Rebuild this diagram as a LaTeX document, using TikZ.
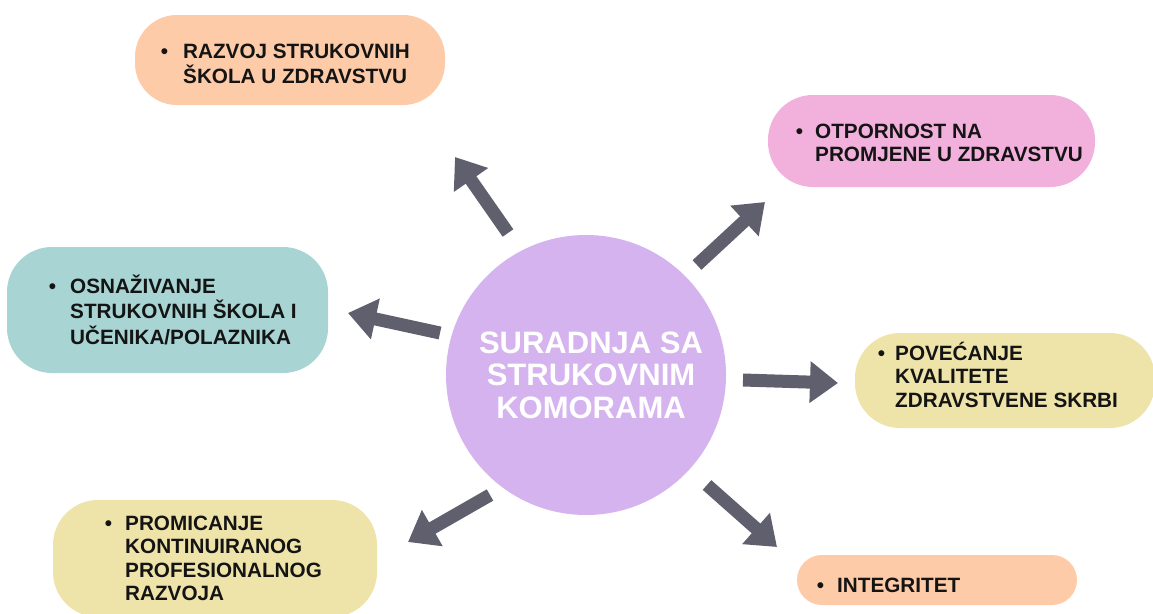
\documentclass[tikz,border=0pt]{standalone}
\usepackage{fontspec}
\setmainfont{Liberation Sans}
\usetikzlibrary{arrows.meta}
\definecolor{peach}{RGB}{253,203,168}
\definecolor{pinkbox}{RGB}{242,176,220}
\definecolor{tealbox}{RGB}{168,212,212}
\definecolor{yellowbox}{RGB}{238,228,170}
\definecolor{lav}{RGB}{212,179,238}
\definecolor{arrowgray}{RGB}{96,95,110}
\definecolor{ink}{RGB}{20,20,20}
\newcommand\mybul[1]{\llap{\textbullet\hspace{#1pt}}}
\tikzset{
  box/.style={rectangle, rounded corners=#1, inner sep=0pt, draw=none},
  lbl/.style={anchor=base west, inner sep=0pt, text=ink,
    font=\fontsize{20.7}{23.5}\selectfont\bfseries},
  ctext/.style={anchor=base, inner sep=0pt, text=white,
    font=\fontsize{31}{32.6}\selectfont\bfseries},
  bigarrow/.style={draw=arrowgray, line width=13pt,
    -{Triangle[width=40pt,length=28pt]}}
}
\begin{document}
\begin{tikzpicture}[x=1pt,y=-1pt]
\clip (0,0) rectangle (1153,613);
\fill[white] (0,0) rectangle (1153,613);

% centre
\node[circle, fill=lav, minimum size=280pt, inner sep=0pt] (c) at (586,375) {};
\node[ctext] (ct) at (591,353) {\begin{tabular}[t]{@{}c@{}}SURADNJA SA\\STRUKOVNIM\\KOMORAMA\end{tabular}};

% boxes
\node[box=42pt, fill=peach, minimum width=310pt, minimum height=90pt] (b1) at (290,60) {};
\node[box=45pt, fill=pinkbox, minimum width=327pt, minimum height=92pt] (b2) at (931.5,141) {};
\node[box=45pt, fill=tealbox, minimum width=321pt, minimum height=126pt] (b3) at (167.5,310) {};
\node[box=45pt, fill=yellowbox, minimum width=300pt, minimum height=95pt] (b4) at (1005,380.5) {};
\node[box=45pt, fill=yellowbox, minimum width=324pt, minimum height=117pt] (b5) at (215,558.5) {};
\node[box=25pt, fill=peach, minimum width=280pt, minimum height=50pt] (b6) at (937,580) {};

% labels
\node[lbl] (t1) at (183,58) {\begin{tabular}[t]{@{}l@{}}\mybul{15}RAZVOJ STRUKOVNIH\\ŠKOLA U ZDRAVSTVU\end{tabular}};
\node[lbl] (t2) at (815,138) {\begin{tabular}[t]{@{}l@{}}\mybul{12}OTPORNOST NA\\PROMJENE U ZDRAVSTVU\end{tabular}};
\node[lbl] (t3) at (70,293) {\begin{tabular}[t]{@{}l@{}}\mybul{14}OSNAŽIVANJE\\STRUKOVNIH ŠKOLA I\\UČENIKA/POLAZNIKA\end{tabular}};
\node[lbl] (t4) at (895,360) {\begin{tabular}[t]{@{}l@{}}\mybul{10}POVEĆANJE\\KVALITETE\\ZDRAVSTVENE SKRBI\end{tabular}};
\node[lbl] (t5) at (125,530) {\begin{tabular}[t]{@{}l@{}}\mybul{13}PROMICANJE\\KONTINUIRANOG\\PROFESIONALNOG\\RAZVOJA\end{tabular}};
\node[lbl] (t6) at (837,592) {\begin{tabular}[t]{@{}l@{}}\mybul{13}INTEGRITET\end{tabular}};

% arrow end points
\coordinate (a1s) at (508,233); \coordinate (a1e) at (455,157);
\coordinate (a2s) at (697,265); \coordinate (a2e) at (765,202);
\coordinate (a3s) at (440,333); \coordinate (a3e) at (348,313);
\coordinate (a4s) at (743,380); \coordinate (a4e) at (838,383);
\coordinate (a5s) at (490,495); \coordinate (a5e) at (408,542);
\coordinate (a6s) at (707,485); \coordinate (a6e) at (777,547);

\draw[bigarrow] (a1s) -- (a1e);
\draw[bigarrow] (a2s) -- (a2e);
\draw[bigarrow] (a3s) -- (a3e);
\draw[bigarrow] (a4s) -- (a4e);
\draw[bigarrow] (a5s) -- (a5e);
\draw[bigarrow] (a6s) -- (a6e);
\end{tikzpicture}
\end{document}
